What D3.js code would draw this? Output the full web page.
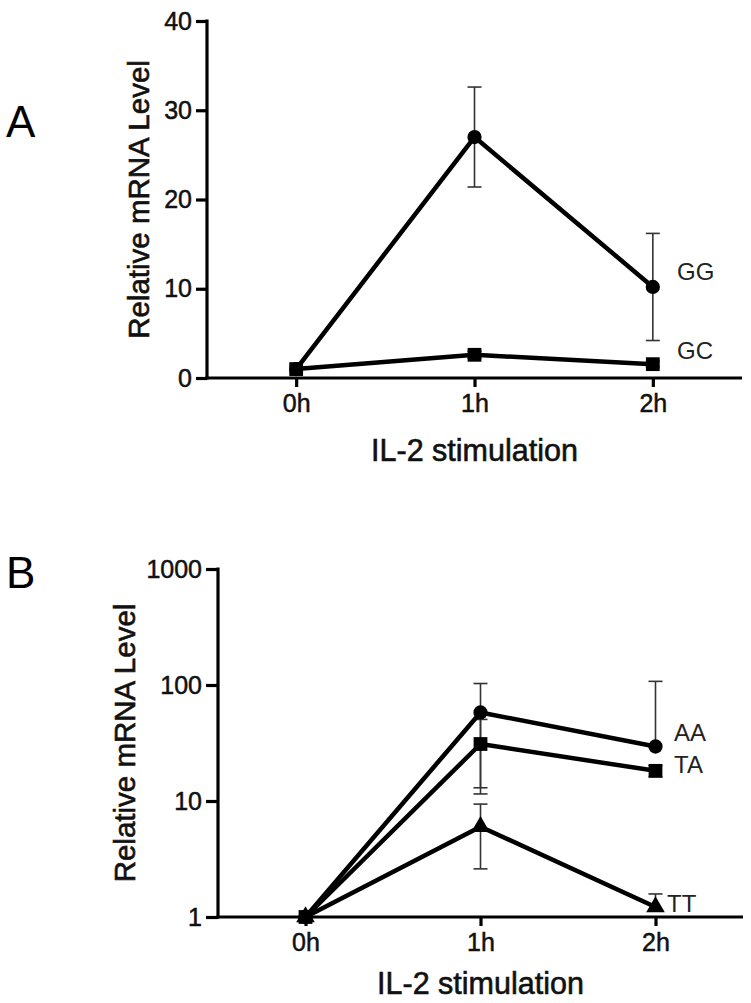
<!DOCTYPE html>
<html>
<meta charset=utf-8>
<head>
  <style>
    body { margin: 0; background: #fff; }
    text { font-family: "Liberation Sans", Arial, sans-serif; }
  </style>
</head>
<body>
  <svg id="canvas" width="751" height="1003"></svg>
  <script src="https://d3js.org/d3.v7.min.js"></script>
  <script>

  // time points on x axis
  var timepoints = ['0h', '1h', '2h'];

  // panel A: linear scale, mean and SD
  var ggMean = [1, 27.0, 10.2];
  var ggSd   = [0, 5.6, 6.0];
  var gcMean = [1, 2.6, 1.55];
  var gcSd   = [0, 0.4, 0.3];
  var ticksA = [0, 10, 20, 30, 40];

  // panel B: log scale, mean and SD
  var aaMean = [1, 58, 29.5];
  var aaSd   = [0, 45, 78];
  var taMean = [1, 31, 18.2];
  var taSd   = [0, 19.5, 2];
  var ttMean = [1, 6.0, 1.22];
  var ttSd   = [0, 3.4, 0.36];
  var ticksB = [1, 10, 100, 1000];

  var svg = d3.select('#canvas');

  function panel(opt) {
    var g = svg.append('g');
    var x = d3.scalePoint().domain(timepoints).range([opt.left, opt.right]).padding(0.5);
    var y = opt.log
      ? d3.scaleLog().domain(opt.domain).range([opt.bottom, opt.top])
      : d3.scaleLinear().domain(opt.domain).range([opt.bottom, opt.top]);
    var ymin = opt.domain[0];

    // axes
    var yAxis = d3.axisLeft(y).tickValues(opt.ticks).tickSize(opt.tick).tickPadding(4)
      .tickFormat(d3.format('d'));
    var xAxis = d3.axisBottom(x).tickSize(9).tickPadding(7);

    var ya = g.append('g').attr('transform', 'translate(' + opt.left + ',0)').call(yAxis);
    var xa = g.append('g').attr('transform', 'translate(0,' + opt.bottom + ')').call(xAxis);
    [ya, xa].forEach(function(a) {
      a.select('.domain').attr('stroke', '#000').attr('stroke-width', 3.2);
      a.selectAll('.tick line').attr('stroke', '#000').attr('stroke-width', 3.2);
      a.selectAll('.tick text').attr('fill', '#111').attr('stroke', '#111')
        .attr('stroke-width', 0.5).style('font-size', '25px');
    });
    // flat domain ends (no outer tick stubs)
    ya.select('.domain').attr('d', 'M0,' + (opt.top - 1.5) + 'V' + (opt.bottom + 1.6));
    xa.select('.domain').attr('d', 'M' + (opt.left - 1.6) + ',0H' + opt.right);

    // axis titles
    g.append('text')
      .attr('transform', 'translate(' + opt.ytitleX + ',' + ((opt.top + opt.bottom) / 2) + ') rotate(-90)')
      .attr('text-anchor', 'middle')
      .attr('fill', '#111').attr('stroke', '#111').attr('stroke-width', 0.6)
      .style('font-size', '29.5px')
      .text('Relative mRNA Level');
    g.append('text')
      .attr('x', (opt.left + opt.right) / 2)
      .attr('y', opt.xtitleY)
      .attr('text-anchor', 'middle')
      .attr('fill', '#111').attr('stroke', '#111').attr('stroke-width', 0.6)
      .style('font-size', '30.5px')
      .text('IL-2 stimulation');

    // panel letter
    g.append('text')
      .attr('x', 6).attr('y', opt.letterY)
      .attr('fill', '#000')
      .style('font-size', '44px')
      .text(opt.letter);

    // error bars
    opt.series.forEach(function(s) {
      s.mean.forEach(function(m, i) {
        if (!s.sd[i]) return;
        var hi = m + s.sd[i];
        var lo = m - s.sd[i];
        var cx = x(timepoints[i]);
        var eb = g.append('g').attr('stroke', '#333').attr('stroke-width', 1.6);
        eb.append('line').attr('x1', cx).attr('x2', cx).attr('y1', y(hi)).attr('y2', y(m));
        eb.append('line').attr('x1', cx - 7).attr('x2', cx + 7).attr('y1', y(hi)).attr('y2', y(hi));
        if (lo > ymin) {
          eb.append('line').attr('x1', cx).attr('x2', cx).attr('y1', y(lo)).attr('y2', y(m));
          eb.append('line').attr('x1', cx - 7).attr('x2', cx + 7).attr('y1', y(lo)).attr('y2', y(lo));
        }
      });
    });

    // lines
    var line = d3.line()
      .x(function(d, i) { return x(timepoints[i]); })
      .y(function(d) { return y(d); });
    opt.series.forEach(function(s) {
      g.append('path').datum(s.mean)
        .attr('d', line)
        .attr('fill', 'none')
        .attr('stroke', '#000')
        .attr('stroke-width', 4.5)
        .attr('stroke-linejoin', 'round');
    });

    // markers
    opt.series.forEach(function(s) {
      var sym = d3.symbol().type(s.shape).size(s.size);
      g.selectAll(null).data(s.mean).enter()
        .append('path')
        .attr('d', sym)
        .attr('transform', function(d, i) {
          return 'translate(' + x(timepoints[i]) + ',' + y(d) + ')';
        })
        .attr('fill', '#000');
      // series label
      g.append('text')
        .attr('x', s.labelX).attr('y', s.labelY)
        .attr('fill', '#222')
        .style('font-size', '24px')
        .text(s.name);
    });
  }

  panel({
    letter: 'A', letterY: 137,
    left: 207, right: 742, top: 21, bottom: 378,
    domain: [0, 40], ticks: ticksA, log: false, tick: 11,
    ytitleX: 149, xtitleY: 461,
    series: [
      {name: 'GG', mean: ggMean, sd: ggSd, shape: d3.symbolCircle, size: 160, labelX: 677, labelY: 280},
      {name: 'GC', mean: gcMean, sd: gcSd, shape: d3.symbolSquare, size: 190, labelX: 677, labelY: 359}
    ]
  });

  panel({
    letter: 'B', letterY: 588,
    left: 218, right: 743, top: 569, bottom: 917,
    domain: [1, 1000], ticks: ticksB, log: true, tick: 12,
    ytitleX: 135, xtitleY: 994,
    series: [
      {name: 'AA', mean: aaMean, sd: aaSd, shape: d3.symbolCircle, size: 160, labelX: 674, labelY: 741},
      {name: 'TT', mean: ttMean, sd: ttSd, shape: d3.symbolTriangle, size: 150, labelX: 667, labelY: 912},
      {name: 'TA', mean: taMean, sd: taSd, shape: d3.symbolSquare, size: 190, labelX: 674, labelY: 773}
    ]
  });

  </script>
</body>
</html>
